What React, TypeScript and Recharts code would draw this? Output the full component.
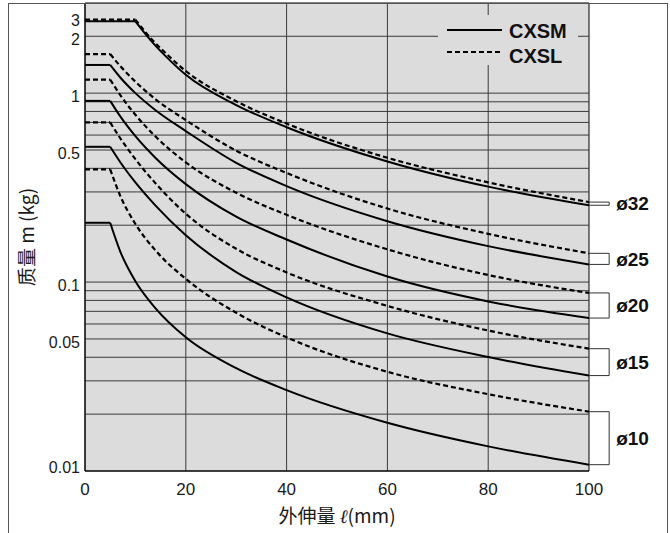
import React from 'react';
import { CartesianGrid, Line, LineChart, ReferenceArea, ReferenceDot, ReferenceLine, XAxis, YAxis } from 'recharts';

// lengths (mm) where the curves were read; the plateau runs from 0 to the first entry
const LENGTH_32 = [10, 13, 16, 20, 30, 40, 60, 80, 100];
const LENGTH = [5, 7, 10, 14, 20, 30, 40, 60, 80, 100];

// allowable mass (kg)
const CXSM_32 = [2.4, 1.91, 1.57, 1.25, 0.865, 0.66, 0.435, 0.32, 0.255];
const CXSL_32 = [2.45, 1.96, 1.63, 1.31, 0.906, 0.69, 0.455, 0.337, 0.265];
const CXSM_25 = [1.41, 1.21, 1.0, 0.812, 0.63, 0.428, 0.322, 0.21, 0.155, 0.124];
const CXSL_25 = [1.61, 1.39, 1.15, 0.928, 0.72, 0.496, 0.378, 0.245, 0.18, 0.142];
const CXSM_20 = [0.91, 0.753, 0.592, 0.454, 0.33, 0.222, 0.168, 0.107, 0.079, 0.0645];
const CXSL_20 = [1.18, 0.977, 0.768, 0.589, 0.43, 0.297, 0.227, 0.149, 0.109, 0.0876];
const CXSM_15 = [0.52, 0.431, 0.337, 0.254, 0.177, 0.113, 0.083, 0.0535, 0.0401, 0.032];
const CXSL_15 = [0.7, 0.577, 0.447, 0.333, 0.23, 0.15, 0.1125, 0.0748, 0.0554, 0.0444];
const CXSM_10 = [0.206, 0.145, 0.101, 0.0726, 0.051, 0.035, 0.0268, 0.018, 0.0135, 0.0108];
const CXSL_10 = [0.395, 0.286, 0.203, 0.147, 0.104, 0.0688, 0.051, 0.0335, 0.0255, 0.0206];

const BORES = ['ø32', 'ø25', 'ø20', 'ø15', 'ø10'];
const CXSM = [CXSM_32, CXSM_25, CXSM_20, CXSM_15, CXSM_10];
const CXSL = [CXSL_32, CXSL_25, CXSL_20, CXSL_15, CXSL_10];

const MASS_TICKS = [0.01, 0.05, 0.1, 0.5, 1, 2, 3];
const MASS_GRID = [0.02, 0.03, 0.04, 0.05, 0.06, 0.07, 0.08, 0.09, 0.1, 0.2, 0.3, 0.4, 0.5, 0.6, 0.7, 0.8, 0.9, 1, 2];
const LENGTH_TICKS = [0, 20, 40, 60, 80, 100];
const LENGTH_GRID = [20, 40, 60, 80];

const FONT = '"Liberation Sans", Arial, "Noto Sans CJK SC", sans-serif';
const CJK_FONT = '"Noto Sans CJK SC", "Liberation Sans", sans-serif';
const PLOT_BG = '#dcdcdc';
const GRID = '#3a3a3a';
const BRACKET_X = 104;

const lengthsFor = (i: number) => (i === 0 ? LENGTH_32 : LENGTH);
const toPoints = (xs: number[], ys: number[]) => xs.map((x, i) => ({ x, m: ys[i] }));
const plateau = (xs: number[], ys: number[]) => [{ x: 0, m: ys[0] }, { x: xs[0], m: ys[0] }];

const MassTick = (props: any) => {
  const { x, y, payload } = props;
  const v = payload.value;
  const shift = v === 3 ? 11 : v === 0.01 ? -4 : 3;
  return (
    <text x={x} y={y + shift} dy="0.355em" textAnchor="end" fontSize={16} fill="#1a1a1a" fontFamily={FONT}>
      {v}
    </text>
  );
};

const MassTitle = (props: any) => {
  const { viewBox } = props;
  const cx = viewBox.x + 25;
  const cy = viewBox.y + viewBox.height / 2;
  return (
    <text x={cx} y={cy} transform={`rotate(-90, ${cx}, ${cy})`} textAnchor="middle" dominantBaseline="central" fontSize={19} fill="#1a1a1a" fontFamily={CJK_FONT}>
      质量 m (kg)
    </text>
  );
};

const LengthTitle = (props: any) => {
  const { viewBox } = props;
  const cx = viewBox.x + viewBox.width / 2;
  return (
    <text x={cx} y={523} textAnchor="middle" fontSize={19} fill="#1a1a1a" fontFamily={CJK_FONT}>
      外伸量 <tspan fontStyle="italic" fontFamily="DejaVu Serif">ℓ</tspan>(mm)
    </text>
  );
};

const ChartLegend = () => (
  <div style={{ position: 'absolute', left: 438, top: 15, width: 140, height: 50, background: PLOT_BG }}>
    <svg width={140} height={50} style={{ display: 'block' }}>
      <line x1={9} y1={15} x2={64} y2={15} stroke="#000" strokeWidth={2} />
      <text x={71} y={22.5} fontSize={20} fontWeight="bold" fontFamily={FONT} fill="#111">CXSM</text>
      <line x1={9} y1={37} x2={64} y2={37} stroke="#000" strokeWidth={2} strokeDasharray="5 3" />
      <text x={71} y={47.5} fontSize={20} fontWeight="bold" fontFamily={FONT} fill="#111">CXSL</text>
    </svg>
  </div>
);

export default function App() {
  return (
    <div style={{ position: 'absolute', left: 0, top: 0, width: 670, height: 533, background: '#fff' }}>
      <LineChart width={670} height={533} margin={{ top: 3, right: 81, bottom: 32, left: 0 }}>
        <CartesianGrid horizontal={false} vertical={false} fill={PLOT_BG} />
        <XAxis
          dataKey="x"
          type="number"
          domain={[0, 100]}
          ticks={LENGTH_TICKS}
          allowDataOverflow
          height={30}
          tickSize={0}
          tickMargin={12}
          axisLine={{ stroke: '#000' }}
          tick={{ fontSize: 17, fill: '#1a1a1a', fontFamily: FONT }}
          label={{ content: <LengthTitle /> }}
        />
        <YAxis
          type="number"
          scale="log"
          domain={[0.01, 3]}
          ticks={MASS_TICKS}
          allowDataOverflow
          width={85}
          tickSize={0}
          tickMargin={5}
          axisLine={{ stroke: '#000' }}
          tick={<MassTick />}
          label={{ content: <MassTitle /> }}
        />
        {MASS_GRID.map((v) => (
          <ReferenceLine key={`h${v}`} y={v} stroke={GRID} strokeWidth={1} />
        ))}
        {LENGTH_GRID.map((v) => (
          <ReferenceLine key={`v${v}`} x={v} stroke={GRID} strokeWidth={1} />
        ))}
        <ReferenceArea x1={0} x2={100} y1={0.01} y2={3} fill="none" stroke="#000" strokeWidth={1} />
        {BORES.map((bore, i) => {
          const xs = lengthsFor(i);
          return [
            <Line key={`sp${bore}`} data={plateau(xs, CXSM[i])} dataKey="m" type="linear" stroke="#000" strokeWidth={2} dot={false} activeDot={false} isAnimationActive={false} />,
            <Line key={`sc${bore}`} data={toPoints(xs, CXSM[i])} dataKey="m" type="monotone" stroke="#000" strokeWidth={2} dot={false} activeDot={false} isAnimationActive={false} />,
            <Line key={`lp${bore}`} data={plateau(xs, CXSL[i])} dataKey="m" type="linear" stroke="#000" strokeWidth={2.2} strokeDasharray="5 3" dot={false} activeDot={false} isAnimationActive={false} />,
            <Line key={`lc${bore}`} data={toPoints(xs, CXSL[i])} dataKey="m" type="monotone" stroke="#000" strokeWidth={2.2} strokeDasharray="5 3" dot={false} activeDot={false} isAnimationActive={false} />,
          ];
        })}
        {BORES.map((bore, i) => {
          const lo = CXSM[i][CXSM[i].length - 1];
          const hi = CXSL[i][CXSL[i].length - 1];
          return [
            <ReferenceLine key={`bl${bore}`} segment={[{ x: 100, y: lo }, { x: BRACKET_X, y: lo }]} stroke="#333" ifOverflow="visible" />,
            <ReferenceLine key={`bh${bore}`} segment={[{ x: 100, y: hi }, { x: BRACKET_X, y: hi }]} stroke="#333" ifOverflow="visible" />,
            <ReferenceLine key={`bv${bore}`} segment={[{ x: BRACKET_X, y: lo }, { x: BRACKET_X, y: hi }]} stroke="#333" ifOverflow="visible" />,
            <ReferenceDot
              key={`bt${bore}`}
              x={BRACKET_X}
              y={Math.sqrt(lo * hi)}
              r={0}
              ifOverflow="visible"
              label={{ value: bore, position: 'right', offset: 7, fontSize: 19, fontWeight: 'bold', fill: '#111', fontFamily: FONT }}
            />,
          ];
        })}
      </LineChart>
      <ChartLegend />
      <div style={{ position: 'absolute', left: 8, top: 3, width: 660, height: 540, border: '1px solid #555', boxSizing: 'border-box', pointerEvents: 'none' }} />
    </div>
  );
}
